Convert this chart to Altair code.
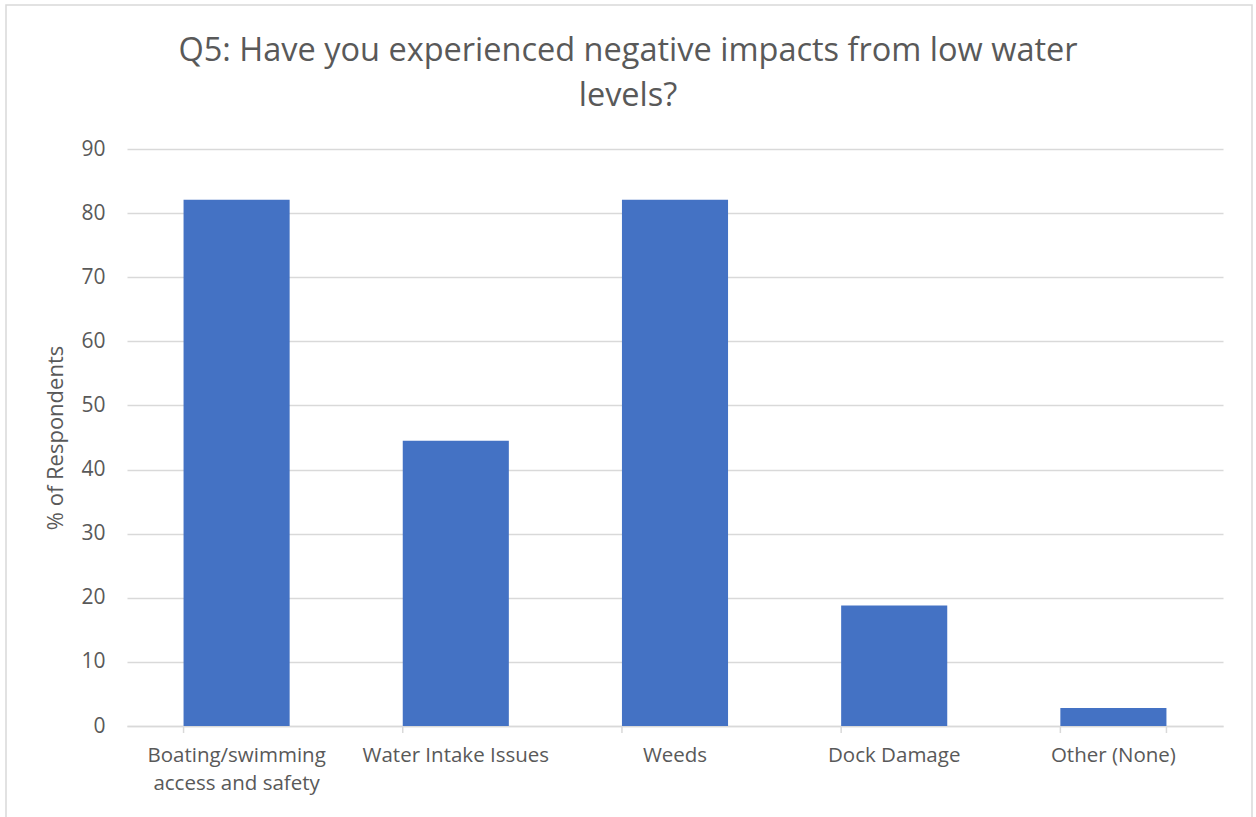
import altair as alt
import pandas as pd

categories = [
    "Boating/swimming access and safety",
    "Water Intake Issues",
    "Weeds",
    "Dock Damage",
    "Other (None)",
]
values = [82.1, 44.5, 82.1, 18.8, 2.8]

title_lines = ["Q5: Have you experienced negative impacts from low water", "levels?"]
y_title = "% of Respondents"

df = pd.DataFrame({"cat": categories, "val": values})

W, H = 1096, 577
FONT = "Open Sans"
TXT = "#595959"
GRID = "#d9d9d9"

xscale = alt.Scale(domain=categories, paddingInner=0.516, paddingOuter=0.258)

label_expr = (
    "datum.value == 'Boating/swimming access and safety' ? "
    "['Boating/swimming', 'access and safety'] : datum.value"
)

bars = alt.Chart(df).mark_bar(color="#4472C4").encode(
    x=alt.X(
        "cat:N",
        scale=xscale,
        sort=categories,
        axis=alt.Axis(
            title=None,
            labelAngle=0,
            labelExpr=label_expr,
            labelFont=FONT,
            labelFontSize=20.5,
            labelColor=TXT,
            labelPadding=19,
            labelLineHeight=28,
            labelLimit=400,
            ticks=False,
            domainColor=GRID,
            domainWidth=1.5,
            grid=False,
        ),
    ),
    y=alt.Y(
        "val:Q",
        scale=alt.Scale(domain=[0, 90], nice=False),
        axis=alt.Axis(
            title=y_title,
            titleFont=FONT,
            titleFontSize=22,
            titleFontWeight="normal",
            titleColor=TXT,
            titlePadding=13,
            values=list(range(0, 91, 10)),
            labelFont=FONT,
            labelFontSize=21,
            labelColor=TXT,
            labelPadding=22,
            ticks=False,
            domain=False,
            grid=True,
            gridColor=GRID,
            gridWidth=1.5,
        ),
    ),
)

tick_left = alt.Chart(df).mark_rule(color=GRID, strokeWidth=1.5).encode(
    x=alt.X("cat:N", scale=xscale, sort=categories, bandPosition=0),
    y=alt.value(H),
    y2=alt.value(H + 7),
)

tick_right = alt.Chart(df).transform_filter(
    alt.datum.cat == categories[-1]
).mark_rule(color=GRID, strokeWidth=1.5).encode(
    x=alt.X("cat:N", scale=xscale, sort=categories, bandPosition=1),
    y=alt.value(H),
    y2=alt.value(H + 7),
)

one_row = alt.Chart(df).transform_filter(alt.datum.cat == categories[0])

border = one_row.mark_rect(fill=None, stroke=GRID, strokeWidth=1.5).encode(
    x=alt.value(-121),
    x2=alt.value(1125),
    y=alt.value(-144),
    y2=alt.value(700),
)

title = one_row.mark_text(
    text=title_lines,
    font=FONT,
    fontSize=32.5,
    color=TXT,
    align="center",
    baseline="alphabetic",
    lineHeight=45,
).encode(
    x=alt.value(501),
    y=alt.value(-88),
)

chart = alt.layer(border, bars, tick_left, tick_right, title).properties(
    width=W,
    height=H,
    autosize=alt.AutoSizeParams(type="none"),
    padding={"left": 127, "top": 149, "right": 33, "bottom": 91},
    background="white",
).configure_view(stroke=None)

chart.save("out.html", embed_options={"renderer": "svg", "actions": False})
